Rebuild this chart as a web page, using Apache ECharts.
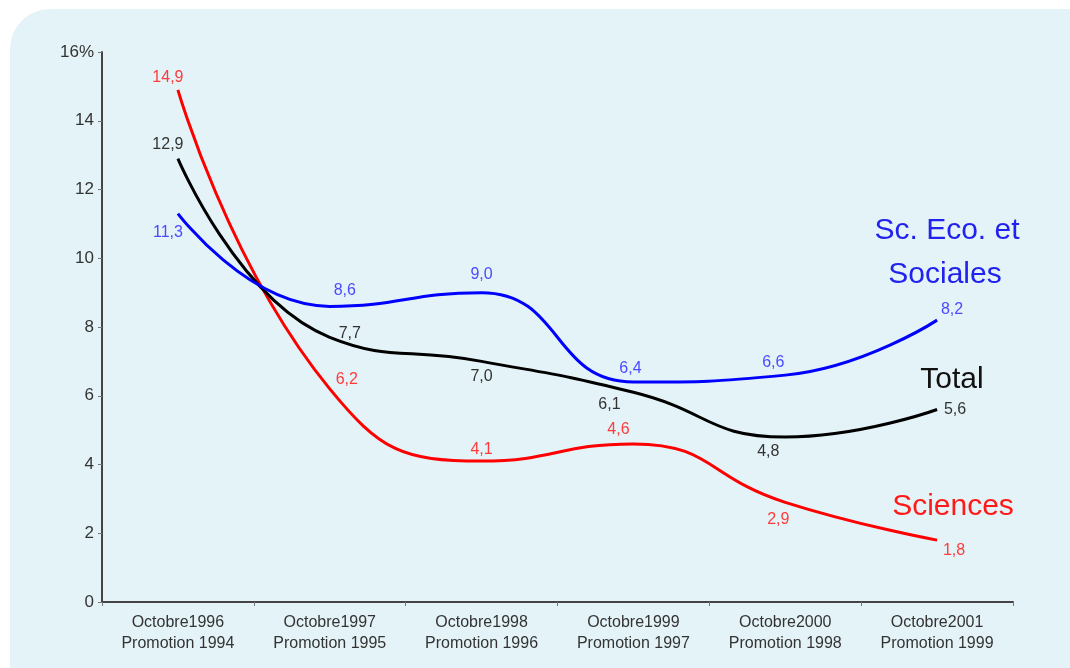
<!DOCTYPE html>
<html>
<head>
<meta charset="utf-8">
<title>Taux de chômage par promotion</title>
<script src="https://cdn.jsdelivr.net/npm/echarts@6/dist/echarts.min.js"></script>
<style>
    html, body { margin: 0; padding: 0; background: #fff; width: 1070px; height: 668px; overflow: hidden; }
    /* fond bleu arrondi */
    #bg { position: absolute; left: 10px; top: 9px; width: 1100px; height: 700px; background: #e4f3f7; border-radius: 40px; }
    #chart { position: absolute; left: 0; top: 0; width: 1070px; height: 668px; }
</style>
</head>
<body>
<div id="bg"></div>
<div id="chart"></div>
<script>
    // catégories (axe x)
    var categories = [
        'Octobre1996\nPromotion 1994',
        'Octobre1997\nPromotion 1995',
        'Octobre1998\nPromotion 1996',
        'Octobre1999\nPromotion 1997',
        'Octobre2000\nPromotion 1998',
        'Octobre2001\nPromotion 1999'
    ]

    // valeurs (%)
    var sciences = [14.9, 6.2, 4.1, 4.6, 2.9, 1.8]
    var total = [12.9, 7.7, 7.0, 6.1, 4.8, 5.6]
    var ecoSociales = [11.3, 8.6, 9.0, 6.4, 6.6, 8.2]

    // axe y
    var yMin = 0
    var yMax = 16
    var yStep = 2

    // décalage des étiquettes (px) par point
    var sciencesOffsets = [[-10, -12], [17, -9], [0, -11], [-15, -14], [-7, 17], [17, 10]]
    var totalOffsets = [[-10, -14], [20, -4], [0, 15], [-24, 12], [-17, 15], [18, 0]]
    var ecoOffsets = [[-10, 19], [15, -16], [0, -18], [-3, -13], [-12, -13], [15, -11]]

    var FONT = '"Liberation Sans", Arial, sans-serif'

    function fmt (v) {
        return v.toFixed(1).replace('.', ',')
    }

    /**
     * construit une série lissée
     * @param {String} name
     * @param {Array} values
     * @param {Array} offsets
     * @param {String} lineColor
     * @param {String} labelColor
     */
    function makeSeries (name, values, offsets, lineColor, labelColor) {
        return {
            name: name,
            type: 'line',
            smooth: true,
            symbol: 'circle',
            symbolSize: 1,
            itemStyle: { color: 'transparent' },
            lineStyle: { color: lineColor, width: 3 },
            label: {
                show: true,
                position: 'inside',
                color: labelColor,
                fontSize: 16,
                fontFamily: FONT,
                formatter: function (p) { return fmt(p.value) }
            },
            data: values.map(function (v, i) {
                return { value: v, label: { offset: offsets[i] } }
            })
        }
    }

    var chart = echarts.init(document.getElementById('chart'))

    var option = {
        animation: false,
        textStyle: { fontFamily: FONT },
        grid: { left: 102, right: 57, top: 52, bottom: 66, outerBoundsMode: 'none' },
        xAxis: {
            type: 'category',
            data: categories,
            boundaryGap: true,
            axisLine: { lineStyle: { color: '#444', width: 2 } },
            axisTick: { show: true, length: 4, lineStyle: { color: '#777' } },
            axisLabel: { color: '#333', fontSize: 16, lineHeight: 21, margin: 10, interval: 0 }
        },
        yAxis: {
            type: 'value',
            min: yMin,
            max: yMax,
            interval: yStep,
            splitLine: { show: false },
            axisLine: { show: true, lineStyle: { color: '#444', width: 2 } },
            axisTick: { show: true, length: 4, lineStyle: { color: '#777' } },
            axisLabel: {
                color: '#333',
                fontSize: 17,
                margin: 8,
                formatter: function (v) { return v === yMax ? v + '%' : v }
            }
        },
        series: [
            makeSeries('Sciences', sciences, sciencesOffsets, '#ff0000', '#ff3b3b'),
            makeSeries('Total', total, totalOffsets, '#000000', '#333333'),
            makeSeries('Sc. Eco. et Sociales', ecoSociales, ecoOffsets, '#0000ff', '#4a4aff')
        ],
        // noms des courbes
        graphic: [
            { type: 'text', x: 947, y: 231, style: { text: 'Sc. Eco. et', fill: '#2222ee', font: '30px ' + FONT, align: 'center', verticalAlign: 'middle' } },
            { type: 'text', x: 945, y: 275, style: { text: 'Sociales', fill: '#2222ee', font: '30px ' + FONT, align: 'center', verticalAlign: 'middle' } },
            { type: 'text', x: 952, y: 380, style: { text: 'Total', fill: '#111', font: '30px ' + FONT, align: 'center', verticalAlign: 'middle' } },
            { type: 'text', x: 953, y: 507, style: { text: 'Sciences', fill: '#ff1a1a', font: '30px ' + FONT, align: 'center', verticalAlign: 'middle' } }
        ]
    }

    chart.setOption(option)
</script>
</body>
</html>
